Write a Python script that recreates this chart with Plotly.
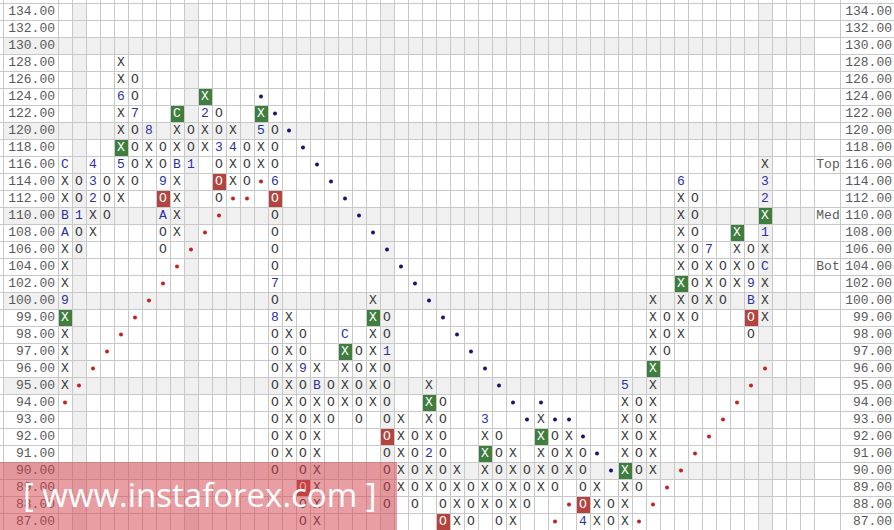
import plotly.graph_objects as go

# ---------------- data ----------------
prices = [134, 132, 130, 128, 126, 124, 122, 120, 118, 116, 114, 112, 110, 108, 106, 104, 102, 100,
          99, 98, 97, 96, 95, 94, 93, 92, 91, 90, 89, 88, 87]
price_labels = [f"{p:.2f}" for p in prices]
n_grid_cols = 54

col_kind = ["X", "O", "X", "O", "X", "O", "X", "O", "X", "O", "X", "O", "X", "O", "X", "O", "X",
            "O", "X", "O", "X", "O", "X", "O", "X", "O", "X", "O", "X", "O", "X", "O", "X", "O",
            "X", "O", "X", "O", "X", "O", "X", "O", "X", "O", "X", "O", "X", "O", "X", "O", "X"]
col_low = [95, 106, 108, 110, 112, 114, 116, 106, 108, 116, 118, 112, 114, 114, 116, 90, 91, 87, 87,
           93, 94, 93, 94, 88, 89, 88, 89, 87, 87, 87, 88, 87, 87, 88, 89, 89, 90, 87, 87, 87, 87,
           89, 90, 97, 98, 99, 100, 100, 102, 98, 99]
col_high = [116, 114, 116, 114, 128, 126, 120, 118, 122, 120, 124, 122, 120, 118, 122, 120, 99, 98,
            96, 95, 98, 97, 100, 99, 93, 92, 95, 94, 90, 89, 93, 92, 91, 90, 93, 92, 92, 91, 89, 88,
            95, 94, 100, 99, 114, 112, 106, 104, 108, 106, 116]

mark_col = [0, 0, 0, 0, 1, 2, 2, 2, 4, 4, 5, 6, 7, 7, 8, 8, 9, 10, 11, 12, 14, 15, 15, 15, 17, 18,
            20, 23, 26, 30, 37, 40, 44, 46, 49, 49, 50, 50, 50, 50]
mark_price = [100, 108, 110, 116, 110, 112, 114, 116, 116, 124, 122, 120, 114, 110, 116, 122, 116,
              122, 118, 118, 120, 114, 102, 99, 96, 95, 98, 97, 91, 93, 87, 95, 114, 106, 102, 100,
              104, 108, 112, 114]
mark_char = ["9", "A", "B", "C", "1", "2", "3", "4", "5", "6", "7", "8", "9", "A", "B", "C", "1",
             "2", "3", "4", "5", "6", "7", "8", "9", "B", "C", "1", "2", "3", "4", "5", "6", "7",
             "9", "B", "C", "1", "2", "3"]

green_col = [0, 4, 8, 10, 14, 20, 22, 26, 30, 34, 40, 42, 44, 48, 50]
green_price = [99, 118, 122, 124, 122, 97, 99, 94, 91, 92, 90, 96, 102, 108, 110]
red_col = [7, 11, 15, 17, 23, 27, 37, 49]
red_price = [112, 114, 112, 89, 92, 87, 88, 99]

res_col = [14, 15, 16, 17, 18, 19, 20, 21, 22, 23, 24, 25, 26, 27, 28, 29, 30, 31, 32, 33,
           34, 35, 36, 37, 38, 39]
res_price = [124, 122, 120, 118, 116, 114, 112, 110, 108, 106, 104, 102, 100, 99, 98, 97, 96, 95,
             94, 93, 94, 93, 93, 92, 91, 90]
sup_col = [0, 1, 2, 3, 4, 5, 6, 7, 8, 9, 10, 11, 12, 13, 14, 35, 36, 41, 42, 43, 44, 45, 46, 47,
           48, 49, 50]
sup_price = [94, 95, 96, 97, 98, 99, 100, 102, 104, 106, 108, 110, 112, 112, 114, 87, 88, 87, 88,
             89, 90, 91, 92, 93, 94, 95, 96]

shade_cols = [1, 9, 23, 50]
shade_prices = [130, 120, 110, 100, 95, 90]
tag_prices = [116, 110, 104]
tag_text = ["Top", "Med", "Bot"]

# ---------------- geometry (axis units: 1 column, 1 row) ----------------
W, H = 894, 530
CW, RH = 14.0, 17.0
X0PX, Y0PX = 65.0, 11.5          # pixel centre of column 0 / row 0
xr = [-X0PX / CW, (W - X0PX) / CW]
yr = [(H - Y0PX) / RH, -Y0PX / RH]
left_edge = (3 - X0PX) / CW
tag_edge = (840 - X0PX) / CW
left_lab_x = (55 - X0PX) / CW
right_lab_x = (892 - X0PX) / CW
tag_x = (828 - X0PX) / CW

row_of = {p: i for i, p in enumerate(prices)}
MONO = "Courier New, Liberation Mono, monospace"
INK = "#3a3a3a"
LAB = "#5a5a5a"
BLUE = "#2b2fa8"
GREEN = "#3f7e3f"
RED = "#b3443f"
SHADE = "#f0f0f0"
GRID = "#c8c8c8"

marks = {(c, p): ch for c, p, ch in zip(mark_col, mark_price, mark_char)}
boxes = set(zip(green_col, green_price)) | set(zip(red_col, red_price))

nx, ny, nt = [], [], []
mx, my, mt = [], [], []
bx, by, bt = [], [], []
for c, (k, lo, hi) in enumerate(zip(col_kind, col_low, col_high)):
    for p in prices:
        if lo <= p <= hi:
            r = row_of[p]
            if (c, p) in boxes:
                bx.append(c); by.append(r); bt.append(marks.get((c, p), k))
            elif (c, p) in marks:
                mx.append(c); my.append(r); mt.append(marks[(c, p)])
            else:
                nx.append(c); ny.append(r); nt.append(k)

fig = go.Figure()

shapes = []
for p in shade_prices:
    r = row_of[p]
    shapes.append(dict(type="rect", xref="x", yref="y", x0=left_edge, x1=n_grid_cols - 0.5,
                       y0=r - 0.5, y1=r + 0.5, fillcolor=SHADE, line_width=0, layer="below"))
for c in shade_cols:
    shapes.append(dict(type="rect", xref="x", yref="y", x0=c - 0.5, x1=c + 0.5,
                       y0=-0.5, y1=len(prices) - 0.5, fillcolor=SHADE, line_width=0, layer="below"))
for cols, prs, colr in [(green_col, green_price, GREEN), (red_col, red_price, RED)]:
    for c, p in zip(cols, prs):
        r = row_of[p]
        shapes.append(dict(type="rect", xref="x", yref="y", x0=c - 0.5 + 1 / CW, x1=c + 0.5,
                           y0=r - 0.5 + 1 / RH, y1=r + 0.5, fillcolor=colr, line_width=0,
                           layer="between"))
# watermark band
shapes.append(dict(type="rect", xref="paper", yref="paper", x0=0, x1=397 / W, y0=0,
                   y1=(H - 462) / H, fillcolor="rgba(212,62,72,0.5)", line_width=0,
                   layer="above"))

fig.add_trace(go.Scatter(x=nx, y=ny, text=nt, mode="text", textposition="middle center",
                         textfont=dict(family=MONO, size=13, color=INK), hoverinfo="skip"))
fig.add_trace(go.Scatter(x=mx, y=my, text=mt, mode="text", textposition="middle center",
                         textfont=dict(family=MONO, size=13, color=BLUE), hoverinfo="skip"))
fig.add_trace(go.Scatter(x=bx, y=by, text=bt, mode="text", textposition="middle center",
                         textfont=dict(family=MONO, size=13, color="white"), hoverinfo="skip"))
fig.add_trace(go.Scatter(x=res_col, y=[row_of[p] for p in res_price], mode="markers",
                         marker=dict(size=4, color="#14147a"), hoverinfo="skip"))
fig.add_trace(go.Scatter(x=sup_col, y=[row_of[p] for p in sup_price], mode="markers",
                         marker=dict(size=4, color="#c81e1e"), hoverinfo="skip"))
fig.add_trace(go.Scatter(x=[left_lab_x] * len(prices), y=list(range(len(prices))),
                         text=price_labels, mode="text", textposition="middle left",
                         textfont=dict(family=MONO, size=13, color=LAB), hoverinfo="skip"))
fig.add_trace(go.Scatter(x=[right_lab_x] * len(prices), y=list(range(len(prices))),
                         text=price_labels, mode="text", textposition="middle left",
                         textfont=dict(family=MONO, size=13, color=LAB), hoverinfo="skip"))
fig.add_trace(go.Scatter(x=[tag_x] * len(tag_prices), y=[row_of[p] for p in tag_prices],
                         text=tag_text, mode="text", textposition="middle center",
                         textfont=dict(family=MONO, size=13, color=LAB), hoverinfo="skip"))

xt = [c - 0.5 for c in range(n_grid_cols + 1)] + [left_edge, tag_edge]
yt = [r - 0.5 for r in range(len(prices) + 1)]

fig.update_layout(
    width=W, height=H, margin=dict(l=0, r=0, t=0, b=0),
    paper_bgcolor="white", plot_bgcolor="white", showlegend=False,
    shapes=shapes,
    xaxis=dict(range=xr, tickvals=xt, showticklabels=False, showgrid=True, gridcolor=GRID,
               gridwidth=1, zeroline=False, ticks="", showline=False, fixedrange=True),
    yaxis=dict(range=yr, tickvals=yt, showticklabels=False, showgrid=True, gridcolor=GRID,
               gridwidth=1, zeroline=False, ticks="", showline=False, fixedrange=True),
    annotations=[dict(xref="paper", yref="paper", x=200 / W, y=(H - 494) / H,
                      xanchor="center", yanchor="middle",
                      text="[ www.instaforex.com ]", showarrow=False,
                      font=dict(family="Open Sans", size=33, color="white"))],
)

fig.write_html("out.html", config={"displayModeBar": False, "staticPlot": True},
               post_script="document.body.style.margin='0';document.body.style.overflow='hidden';")
